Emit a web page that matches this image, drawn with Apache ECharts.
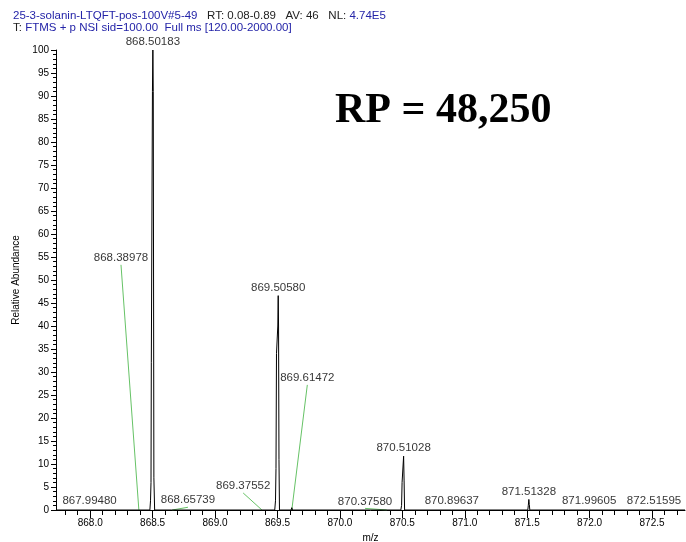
<!DOCTYPE html>
<html><head><meta charset="utf-8">
<script src="https://cdn.jsdelivr.net/npm/echarts@6/dist/echarts.min.js"></script>
<style>html,body{margin:0;padding:0;background:#fff}#c{width:686px;height:542px}</style>
</head><body><div id="c"></div>
<script>
// Profile spectrum (m/z, relative abundance)
const profileMz = [867.726, 867.990, 867.9948, 868.000, 868.385, 868.3898, 868.395,
  868.478, 868.483, 868.487, 868.4895, 868.4985, 868.5018, 868.5050, 868.510, 868.516,
  868.652, 868.6574, 868.663, 869.370, 869.3755, 869.381,
  869.478, 869.484, 869.488, 869.492, 869.5025, 869.5058, 869.5085, 869.512, 869.516,
  869.609, 869.6147, 869.620, 870.370, 870.3758, 870.381,
  870.488, 870.494, 870.498, 870.5103, 870.514, 870.518,
  870.891, 870.8964, 870.902, 871.505, 871.509, 871.5133, 871.517, 871.521,
  871.991, 871.9961, 872.001, 872.510, 872.5160, 872.521, 872.764];
const profileInt = [0, 0, 0.3, 0, 0, 0.3, 0,
  0, 2, 6, 32, 91, 100, 91, 7, 0,
  0, 0.3, 0, 0, 0.4, 0,
  0, 2, 9, 34, 40, 46.6, 40, 11, 0,
  0, 0.5, 0, 0, 0.3, 0,
  0, 1, 6, 11.7, 6.5, 0,
  0, 0.3, 0, 0, 1, 2.3, 1.2, 0,
  0, 0.3, 0, 0, 0.3, 0, 0];

// Peaks labelled directly above the peak
const centerLabelMz = [867.99480, 868.50183, 869.50580, 870.51028, 870.89637, 871.51328, 871.99605, 872.51595];
const centerLabelInt = [0.3, 100, 46.6, 11.7, 0.3, 2.3, 0.3, 0.3];

// Peaks labelled with a green leader line
const leaderPeakMz = [868.38978, 868.65739, 869.37552, 869.61472, 870.37580];
const leaderLabelMz = [868.2466, 868.7829, 869.2251, 869.7390, 870.2012];
const leaderLabelInt = [53.3, 0.6, 3.7, 27.2, 0.35];

// Axis ticks
const xMajorTicks = [868.0, 868.5, 869.0, 869.5, 870.0, 870.5, 871.0, 871.5, 872.0, 872.5];
const xMinorTicks = [];
for (let k = 8678; k <= 8727; k++) xMinorTicks.push(k / 10);
const xMin = 867.726, xMax = 872.764;
const yTickStep = 5;

const chart = echarts.init(document.getElementById('c'), null, {renderer: 'canvas'});
const font = 'Arial, "Liberation Sans", sans-serif';

const series = [{
  type: 'line',
  data: profileMz.map((m, i) => [m, profileInt[i]]),
  showSymbol: false,
  lineStyle: {color: '#000', width: 1},
  silent: true,
  z: 3
}];

leaderPeakMz.forEach((m, i) => {
  series.push({
    type: 'line',
    data: [[leaderLabelMz[i], leaderLabelInt[i]], [m, 0]],
    showSymbol: false,
    lineStyle: {color: '#66c266', width: 1},
    silent: true,
    z: 2
  });
});

series.push({
  type: 'scatter',
  data: centerLabelMz.map((m, i) => [m, centerLabelInt[i]]),
  symbolSize: 0,
  label: {
    show: true, position: 'top', distance: 2,
    formatter: p => p.value[0].toFixed(5),
    fontFamily: font, fontSize: 11.5, color: '#000'
  },
  silent: true, z: 4
});
series.push({
  type: 'scatter',
  data: leaderLabelMz.map((m, i) => [m, leaderLabelInt[i]]),
  symbolSize: 0,
  label: {
    show: true, position: 'top', distance: 1,
    formatter: p => leaderPeakMz[p.dataIndex].toFixed(5),
    fontFamily: font, fontSize: 11.5, color: '#000'
  },
  silent: true, z: 4
});

const hdrRich = {
  b: {fill: '#2424a8', font: '11.5px ' + font},
  k: {fill: '#222', font: '11.5px ' + font}
};

chart.setOption({
  animation: false,
  backgroundColor: '#fff',
  grid: {left: 56, right: 1, top: 50, bottom: 32, containLabel: false, outerBoundsMode: 'none'},
  xAxis: [{
    type: 'value', min: xMin, max: xMax,
    name: 'm/z', nameLocation: 'middle', nameGap: 22,
    nameTextStyle: {fontFamily: font, fontSize: 10, color: '#000'},
    axisLine: {show: true, lineStyle: {color: '#000', width: 1}},
    axisTick: {show: true, length: 8, customValues: xMajorTicks, lineStyle: {color: '#000'}},
    axisLabel: {
      fontFamily: font, fontSize: 10, color: '#000', margin: 8,
      customValues: xMajorTicks,
      formatter: v => v.toFixed(1)
    },
    splitLine: {show: false}
  }, {
    type: 'value', min: xMin, max: xMax, position: 'bottom',
    axisLine: {show: false},
    axisTick: {show: true, length: 5, customValues: xMinorTicks, lineStyle: {color: '#000'}},
    axisLabel: {show: false},
    splitLine: {show: false}
  }],
  yAxis: {
    type: 'value', min: 0, max: 100, interval: yTickStep,
    name: 'Relative Abundance', nameLocation: 'middle', nameGap: 29, nameRotate: 90,
    nameTextStyle: {fontFamily: font, fontSize: 10, color: '#000'},
    axisLine: {show: true, lineStyle: {color: '#000', width: 1}},
    axisTick: {show: true, length: 5, lineStyle: {color: '#000'}},
    minorTick: {show: true, splitNumber: 5, length: 3, lineStyle: {color: '#000'}},
    axisLabel: {fontFamily: font, fontSize: 10, color: '#000', margin: 7},
    splitLine: {show: false}
  },
  graphic: [
    {
      type: 'text', left: 13, top: 10,
      style: {
        text: '{b|25-3-solanin-LTQFT-pos-100V#5-49}   {k|RT: 0.08-0.89}   {k|AV: 46}   {k|NL:} {b|4.74E5}',
        font: '11.5px ' + font, rich: hdrRich
      }
    },
    {
      type: 'text', left: 13, top: 22,
      style: {
        text: '{k|T:} {b|FTMS + p NSI sid=100.00  Full ms [120.00-2000.00]}',
        font: '11.5px ' + font, rich: hdrRich
      }
    },
    {
      type: 'text', left: 335, top: 90,
      style: {
        text: 'RP = 48,250',
        font: 'bold 42px "Liberation Serif", "Times New Roman", serif',
        fill: '#000'
      }
    }
  ],
  series: series
});
</script></body></html>
